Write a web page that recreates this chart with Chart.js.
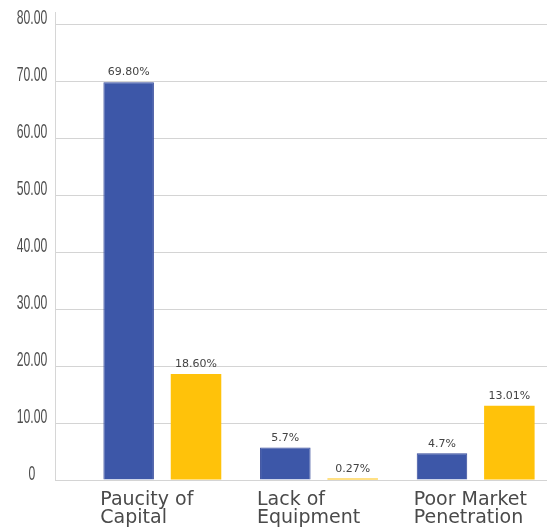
<!DOCTYPE html>
<html>
<head>
<meta charset="utf-8">
<script src="https://cdn.jsdelivr.net/npm/chart.js@4.4.1/dist/chart.umd.min.js"></script>
<style>
  html, body { margin: 0; padding: 0; background: #fff; overflow: hidden; }
  #wrap { width: 554px; height: 529px; }
</style>
</head>
<body>
<div id="wrap"><canvas id="c" width="554" height="529"></canvas></div>
<script>
const categories = [['Paucity of', 'Capital'], ['Lack of', 'Equipment'], ['Poor Market', 'Penetration']];
const seriesA = [69.8, 5.7, 4.7];
const seriesB = [18.6, 0.27, 13.01];
const labelsA = ['69.80%', '5.7%', '4.7%'];
const labelsB = ['18.60%', '0.27%', '13.01%'];
const yTickLabels = ['0', '10.00', '20.00', '30.00', '40.00', '50.00', '60.00', '70.00', '80.00'];

const AXIS_EXT = 29;

const valueLabels = {
  id: 'valueLabels',
  afterDatasetsDraw(chart) {
    const ctx = chart.ctx;
    const texts = [labelsA, labelsB];
    ctx.save();
    ctx.font = '11px "DejaVu Sans"';
    ctx.fillStyle = '#444';
    ctx.textAlign = 'center';
    ctx.textBaseline = 'bottom';
    chart.data.datasets.forEach((ds, di) => {
      chart.getDatasetMeta(di).data.forEach((bar, i) => {
        ctx.fillText(texts[di][i], bar.x, bar.y - 4);
      });
    });
    ctx.restore();
  }
};

// y tick labels drawn in a narrow (horizontally condensed) face, at the scale's tick positions
const narrowYLabels = {
  id: 'narrowYLabels',
  afterDraw(chart) {
    const { ctx } = chart;
    const y = chart.scales.y;
    const cx = 32;
    ctx.save();
    ctx.fillStyle = '#4d4d4d';
    ctx.font = '21px "Liberation Sans"';
    ctx.textAlign = 'center';
    ctx.textBaseline = 'middle';
    y.ticks.forEach((t, i) => {
      const py = y.getPixelForValue(t.value) - 6;
      ctx.save();
      ctx.translate(cx, py);
      ctx.scale(0.58, 1);
      ctx.fillText(yTickLabels[i], 0, 0);
      ctx.restore();
    });
    ctx.restore();
  }
};

const axisLine = {
  id: 'axisLine',
  beforeDatasetsDraw(chart) {
    const { ctx, chartArea } = chart;
    const x = chartArea.left - AXIS_EXT + 0.5;
    ctx.save();
    ctx.strokeStyle = '#d6d6d6';
    ctx.lineWidth = 1;
    ctx.beginPath();
    ctx.moveTo(x, chartArea.top - 12);
    ctx.lineTo(x, chartArea.bottom);
    ctx.stroke();
    ctx.restore();
  }
};

new Chart(document.getElementById('c'), {
  type: 'bar',
  data: {
    labels: categories,
    datasets: [
      { data: seriesA, backgroundColor: '#3d57a8', borderColor: '#34499a', borderWidth: 1,
        barPercentage: 0.75, categoryPercentage: 0.86 },
      { data: seriesB, backgroundColor: '#ffc20a', borderWidth: 0,
        barPercentage: 0.75, categoryPercentage: 0.86 }
    ]
  },
  options: {
    responsive: false,
    animation: false,
    layout: { padding: { top: 24, right: 0, left: 0, bottom: 0 } },
    plugins: { legend: { display: false }, tooltip: { enabled: false }, title: { display: false } },
    scales: {
      x: {
        grid: { display: false },
        border: { display: false },
        ticks: {
          align: 'start',
          labelOffset: -62,
          padding: 3,
          color: '#4a4a4a',
          font: { family: '"DejaVu Sans"', size: 19, lineHeight: 0.95 },
          maxRotation: 0, autoSkip: false
        },
        afterFit(scale) { scale.height = 49; scale.paddingLeft = 0; scale.paddingRight = 0; }
      },
      y: {
        min: 0, max: 80,
        grid: { color: '#d4d4d4', lineWidth: 1, tickLength: AXIS_EXT, drawTicks: true },
        border: { display: false },
        ticks: {
          stepSize: 10,
          display: false
        },
        afterFit(scale) { scale.width = 84; scale.paddingTop = 0; scale.paddingBottom = 0; }
      }
    }
  },
  plugins: [valueLabels, narrowYLabels, axisLine]
});
</script>
</body>
</html>
